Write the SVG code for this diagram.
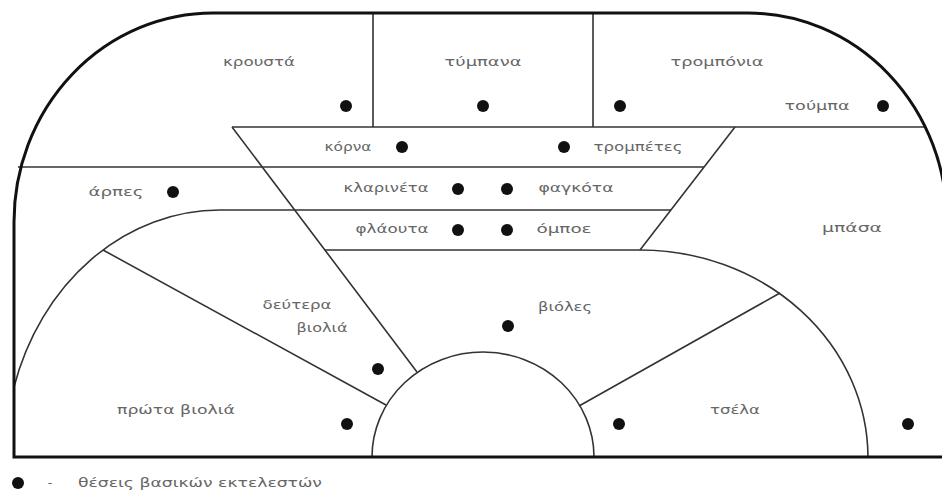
<svg xmlns="http://www.w3.org/2000/svg" width="942" height="492" viewBox="0 0 942 492">
<style>
.out{fill:none;stroke:#111;stroke-width:3}
.ln{fill:none;stroke:#333;stroke-width:1.6}
.t{font-family:"DejaVu Sans",sans-serif;font-size:12.5px;fill:#666;text-anchor:middle}
.d{fill:#111}
</style>
<rect width="942" height="492" fill="#fff"/>
<g id="connectors">
<path class="ln" d="M232,127 L925,127"/>
<path class="ln" d="M18,167 L704,167"/>
<path class="ln" d="M373,13 L373,127 M593,13 L593,127"/>
<path class="ln" d="M232,127 L417,372 M735,127 L640,250"/>
<path class="ln" d="M14,387 A215,248 0 0 1 220,210 L671,210"/>
<path class="ln" d="M325,250 L640,250 A228,208 0 0 1 868,457"/>
<path class="ln" d="M103,250 L386,405 M780,293 L579,406"/>
<path class="ln" d="M372,457 A111,105 0 0 1 594,457"/>
<path class="out" d="M946,457 L14,457 L14,222 A199,209 0 0 1 213,13 L748,13 A199,209 0 0 1 947,222 L947,457"/>
</g>
<g id="krousta"><text class="t" x="259" y="66" textLength="72" lengthAdjust="spacingAndGlyphs">κρουστά</text><circle class="d" cx="346" cy="106" r="6"/></g>
<g id="tympana"><text class="t" x="483" y="66" textLength="77" lengthAdjust="spacingAndGlyphs">τύμπανα</text><circle class="d" cx="483" cy="106" r="6"/></g>
<g id="trombonia"><text class="t" x="717" y="66" textLength="93" lengthAdjust="spacingAndGlyphs">τρομπόνια</text><circle class="d" cx="620" cy="106" r="6"/></g>
<g id="touba"><text class="t" x="817" y="110" textLength="65" lengthAdjust="spacingAndGlyphs">τούμπα</text><circle class="d" cx="883" cy="106" r="6"/></g>
<g id="korna"><text class="t" x="348" y="151" textLength="47" lengthAdjust="spacingAndGlyphs">κόρνα</text><circle class="d" cx="402" cy="147" r="6"/></g>
<g id="trompetes"><text class="t" x="638" y="151" textLength="89" lengthAdjust="spacingAndGlyphs">τρομπέτες</text><circle class="d" cx="564" cy="147" r="6"/></g>
<g id="klarineta"><text class="t" x="386" y="192" textLength="85" lengthAdjust="spacingAndGlyphs">κλαρινέτα</text><circle class="d" cx="458" cy="189" r="6"/></g>
<g id="fagkota"><text class="t" x="576" y="192" textLength="75" lengthAdjust="spacingAndGlyphs">φαγκότα</text><circle class="d" cx="507" cy="189" r="6"/></g>
<g id="flaouta"><text class="t" x="392" y="233" textLength="73" lengthAdjust="spacingAndGlyphs">φλάουτα</text><circle class="d" cx="458" cy="230" r="6"/></g>
<g id="oboe"><text class="t" x="564" y="233" textLength="55" lengthAdjust="spacingAndGlyphs">όμποε</text><circle class="d" cx="507" cy="230" r="6"/></g>
<g id="arpes"><text class="t" x="116" y="196" textLength="55" lengthAdjust="spacingAndGlyphs">άρπες</text><circle class="d" cx="173" cy="192" r="6"/></g>
<g id="basa"><text class="t" x="852" y="232" textLength="60" lengthAdjust="spacingAndGlyphs">μπάσα</text><circle class="d" cx="908" cy="424" r="6"/></g>
<g id="deutera-violia"><text class="t" x="297" y="309" textLength="69" lengthAdjust="spacingAndGlyphs">δεύτερα</text><text class="t" x="322" y="332" textLength="51" lengthAdjust="spacingAndGlyphs">βιολιά</text><circle class="d" cx="378" cy="369" r="6"/></g>
<g id="violes"><text class="t" x="565" y="311" textLength="54" lengthAdjust="spacingAndGlyphs">βιόλες</text><circle class="d" cx="508" cy="326" r="6"/></g>
<g id="prota-violia"><text class="t" x="176" y="414" textLength="118" lengthAdjust="spacingAndGlyphs">πρώτα βιολιά</text><circle class="d" cx="347" cy="424" r="6"/></g>
<g id="tsela"><text class="t" x="735" y="414" textLength="50" lengthAdjust="spacingAndGlyphs">τσέλα</text><circle class="d" cx="619" cy="424" r="6"/></g>
<g id="legend"><circle class="d" cx="18" cy="483" r="6"/><text class="t" x="50" y="487">-</text><text class="t" x="78" y="487" style="text-anchor:start" textLength="244" lengthAdjust="spacingAndGlyphs">θέσεις βασικών εκτελεστών</text></g>
</svg>
